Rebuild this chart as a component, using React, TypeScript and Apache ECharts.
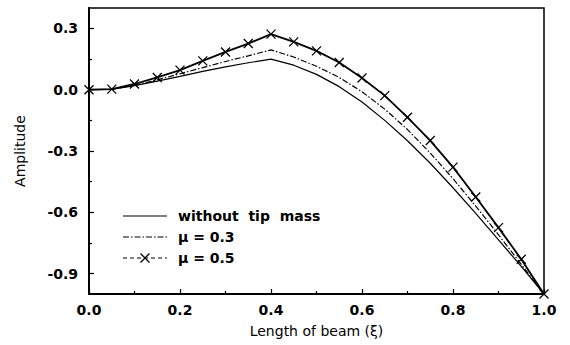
import React, { useEffect, useRef } from "react";
import * as echarts from "echarts";

const xValues = [0, 0.05, 0.1, 0.15, 0.2, 0.25, 0.3, 0.35, 0.4, 0.45, 0.5, 0.55, 0.6, 0.65, 0.7, 0.75, 0.8, 0.85, 0.9, 0.95, 1.0];
const withoutTipMass = [0, 0.002, 0.02, 0.042, 0.065, 0.09, 0.112, 0.132, 0.15, 0.12, 0.075, 0.015, -0.06, -0.15, -0.25, -0.36, -0.48, -0.605, -0.735, -0.865, -1.0];
const mu03 = [0, 0.002, 0.022, 0.048, 0.078, 0.108, 0.138, 0.166, 0.195, 0.16, 0.115, 0.06, -0.01, -0.095, -0.195, -0.31, -0.435, -0.57, -0.71, -0.855, -1.0];
const mu05 = [0, 0.003, 0.028, 0.06, 0.096, 0.141, 0.185, 0.226, 0.272, 0.234, 0.19, 0.133, 0.057, -0.029, -0.135, -0.249, -0.379, -0.525, -0.675, -0.83, -1.0];
const yMajorTicks = [-0.9, -0.6, -0.3, 0, 0.3];
const yMinorTicks = [-0.75, -0.45, -0.15, 0.15];
const seriesNames = ["without  tip  mass", "μ = 0.3", "μ = 0.5"];

const zip = (ys: number[]) => xValues.map((x, i) => [x, ys[i]]);

const DASH_DOT = [6, 2, 1.5, 2];
const CROSS = "path://M0,0L10,10M10,0L0,10";

export default function App() {
  const ref = useRef<HTMLDivElement>(null);
  useEffect(() => {
    if (!ref.current) return;
    const chart = echarts.init(ref.current, null, { renderer: "svg" });
    const labelFont = { fontFamily: "DejaVu Sans", fontWeight: "bold" as const, fontSize: 14, color: "#000" };
    const legendX0 = 123;
    const legendX1 = 167;
    const legendTextX = 178;
    const rowY = [216, 237, 258];
    const legendText = (i: number) => ({
      type: "text",
      x: legendTextX,
      y: rowY[i],
      style: { text: seriesNames[i], fill: "#000", font: "bold 14px 'DejaVu Sans'", verticalAlign: "middle", align: "left" },
    });
    const mx = 145;
    const my = rowY[2];
    chart.setOption({
      animation: false,
      backgroundColor: "#fff",
      grid: {
        left: 89,
        right: 26,
        top: 8,
        bottom: 51,
        show: true,
        borderColor: "#000",
        borderWidth: 1.5,
        backgroundColor: "transparent",
      },
      graphic: [
        { type: "line", shape: { x1: legendX0, y1: rowY[0], x2: legendX1, y2: rowY[0] }, style: { stroke: "#000", lineWidth: 1.2 } },
        legendText(0),
        { type: "line", shape: { x1: legendX0, y1: rowY[1], x2: legendX1, y2: rowY[1] }, style: { stroke: "#000", lineWidth: 1.2, lineDash: DASH_DOT } },
        legendText(1),
        { type: "line", shape: { x1: legendX0, y1: rowY[2], x2: legendX1, y2: rowY[2] }, style: { stroke: "#000", lineWidth: 1.2, lineDash: [4, 3] } },
        { type: "line", shape: { x1: mx - 4.5, y1: my - 4.5, x2: mx + 4.5, y2: my + 4.5 }, style: { stroke: "#000", lineWidth: 1.3 } },
        { type: "line", shape: { x1: mx + 4.5, y1: my - 4.5, x2: mx - 4.5, y2: my + 4.5 }, style: { stroke: "#000", lineWidth: 1.3 } },
        legendText(2),
      ],
      xAxis: {
        type: "value",
        min: 0,
        max: 1,
        interval: 0.2,
        name: "Length of beam (ξ)",
        nameLocation: "middle",
        nameGap: 30,
        nameTextStyle: { fontFamily: "DejaVu Sans", fontSize: 14, color: "#000" },
        axisLine: { show: true, onZero: false, lineStyle: { color: "#000", width: 2 } },
        axisTick: { show: true, inside: true, length: 5, lineStyle: { color: "#000", width: 1.2 } },
        minorTick: { show: true, splitNumber: 2, length: 3, lineStyle: { color: "#000", width: 1.2 } },
        axisLabel: { ...labelFont, margin: 9, formatter: (v: number) => v.toFixed(1) },
        splitLine: { show: false },
      },
      yAxis: [
        {
          type: "value",
          min: -1.0,
          max: 0.4,
          name: "Amplitude",
          nameLocation: "middle",
          nameGap: 62,
          nameRotate: 90,
          nameTextStyle: { fontFamily: "DejaVu Sans", fontSize: 14, color: "#000" },
          axisLine: { show: true, onZero: false, lineStyle: { color: "#000", width: 2 } },
          axisTick: { show: true, inside: true, length: 5, customValues: yMajorTicks, lineStyle: { color: "#000", width: 1.2 } },
          axisLabel: { ...labelFont, margin: 11, customValues: yMajorTicks, formatter: (v: number) => v.toFixed(1) },
          splitLine: { show: false },
        },
        {
          type: "value",
          min: -1.0,
          max: 0.4,
          position: "left",
          offset: 0,
          axisLine: { show: false, onZero: false },
          axisTick: { show: true, inside: true, length: 3, customValues: yMinorTicks, lineStyle: { color: "#000", width: 1.2 } },
          axisLabel: { show: false },
          splitLine: { show: false },
        },
      ],
      series: [
        {
          name: seriesNames[0],
          type: "line",
          data: zip(withoutTipMass),
          symbol: "none",
          lineStyle: { color: "#000", width: 1.2, type: "solid" },
          itemStyle: { color: "#000" },
        },
        {
          name: seriesNames[1],
          type: "line",
          data: zip(mu03),
          symbol: "none",
          lineStyle: { color: "#000", width: 1.2, type: DASH_DOT },
          itemStyle: { color: "#000" },
        },
        {
          name: seriesNames[2],
          type: "line",
          data: zip(mu05),
          symbol: CROSS,
          symbolSize: 9,
          lineStyle: { color: "#000", width: 1.8, type: "solid" },
          itemStyle: { color: "#000", borderColor: "#000", borderWidth: 1.3 },
        },
      ],
    });
    return () => chart.dispose();
  }, []);
  return <div ref={ref} style={{ width: 570, height: 345, position: "absolute", left: 0, top: 0 }} />;
}
